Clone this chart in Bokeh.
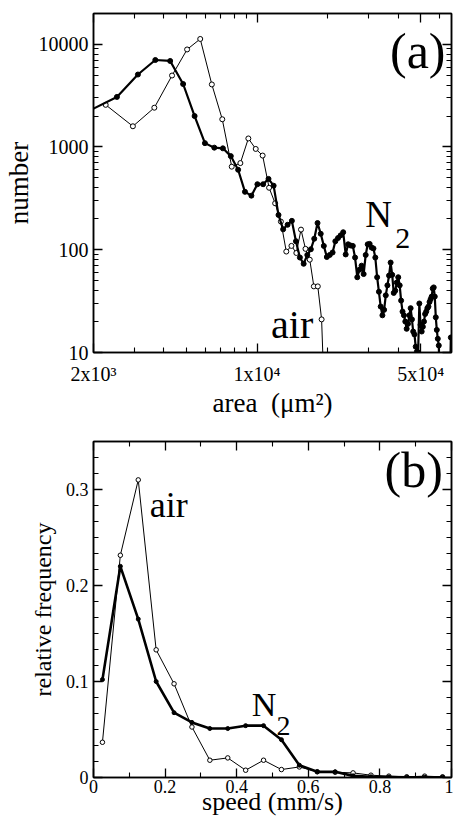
from bokeh.plotting import figure
from bokeh.models import FixedTicker, LogAxis, LinearAxis, Label, Range1d, NumeralTickFormatter
from bokeh.layouts import column
from bokeh.embed import file_html
from bokeh.resources import INLINE

FONT = "Liberation Serif"

# ---------------- panel (a): area distribution (log-log) ----------------
area_n2 = [1940, 2518, 3096, 3674, 4252, 4830, 5408, 5986, 6564, 7142,
           7720, 8298, 8876, 9454, 10032, 10610, 11188, 11766, 12344, 12922,
           13500, 14078, 14656, 15234, 15812, 16390, 16968, 17546, 18124, 18702,
           19280, 19858, 20436, 21014, 21592, 22170, 22748, 23326, 23904, 24482,
           25060, 25638, 26216, 26794, 27372, 27950, 28528, 29106, 29684, 30262,
           30840, 31418, 31996, 32574, 33152, 33730, 34308, 34886, 35464, 36042,
           36620, 37198, 37776, 38354, 38932, 39510, 40088, 40666, 41244, 41822,
           42400, 42978, 43556, 44134, 44712, 45290, 45868, 46446, 47024, 47602,
           48180, 48758, 49336, 49914, 50492, 51070, 51648, 52226, 52804, 53382,
           53960, 54538, 55116, 55694, 56272, 56850, 57428, 58006, 58584, 59162,
           59740, 60318, 66676, 67254]
count_n2 = [2280, 3070, 5070, 7020, 6870, 4100, 2000, 1090, 985, 970,
            815, 600, 366, 336, 434, 434, 489, 420, 218, 158,
            175, 191, 121, 84, 73, 89, 101, 128, 182, 143,
            109, 85, 89, 94, 121, 130, 138, 148, 90, 113,
            110, 109, 84, 54, 64, 70, 58, 89, 113, 114,
            105, 103, 84, 54, 39, 28, 23, 26, 36, 45,
            56, 75, 57, 38, 40, 48, 54, 45, 32, 25,
            23, 20, 17, 19, 23, 27, 21, 16, 15, 11.4,
            10.2, 10, 30, 18.6, 16, 17.8, 20, 23.7, 25, 27,
            28, 31, 33, 35, 42, 43, 35, 22, 16.6, 13.6,
            11.7, 5, 5, 14]

area_air = [2255, 2947, 3639, 4331, 5023, 5715, 6407, 7099, 7791, 8483,
            9175, 9867, 10559, 11251, 11943, 12635, 13327, 14019, 14711, 15403,
            16095, 16787, 17479, 18171, 18863, 19555]
count_air = [2570, 1590, 2410, 4960, 8890, 11250, 4060, 1860, 643, 697,
             1210, 957, 825, 401, 283, 188, 96, 109, 93, 157,
             102, 80, 44, 44, 21, 2]

area_major = [2000, 10000, 50000]
area_major_labels = ["2x10³", "1x10⁴", "5x10⁴"]
area_minor = [3000, 4000, 5000, 6000, 7000, 8000, 9000, 20000, 30000, 40000, 60000]
count_major = [10, 100, 1000, 10000]
count_minor = [20, 30, 40, 50, 60, 70, 80, 90, 200, 300, 400, 500, 600, 700, 800, 900,
               2000, 3000, 4000, 5000, 6000, 7000, 8000, 9000]

# ---------------- panel (b): speed distribution ----------------
speed = [0.025, 0.075, 0.125, 0.175, 0.225, 0.275, 0.325, 0.375, 0.425, 0.475,
         0.525, 0.575, 0.625, 0.675, 0.725, 0.775, 0.825, 0.875, 0.925, 0.975]
freq_n2 = [0.102, 0.220, 0.165, 0.100, 0.0675, 0.0574, 0.051, 0.051, 0.054, 0.054,
           0.0394, 0.0128, 0.0059, 0.0059, 0.0017, 0.0007, 0.0005, 0.0003, 0.0003, 0.0003]
freq_air = [0.0367, 0.2315, 0.310, 0.133, 0.0976, 0.0526, 0.018, 0.0204, 0.0076, 0.018,
            0.0083, 0.011, 0.006, 0.0055, 0.0048, 0.0024, 0.0014, 0.0007, 0.0014, 0.0007]

speed_major = [0, 0.2, 0.4, 0.6, 0.8, 1.0]
speed_minor = [0.1, 0.3, 0.5, 0.7, 0.9]
freq_major = [0, 0.1, 0.2, 0.3]
freq_minor = [0.0167, 0.0333, 0.05, 0.0667, 0.0833, 0.1167, 0.1333, 0.15, 0.1667, 0.1833,
              0.2167, 0.2333, 0.25, 0.2667, 0.2833, 0.3167, 0.3333]


def style_axis(ax, tick_size="20px", label_size="27px"):
    ax.major_tick_in = 9
    ax.major_tick_out = 0
    ax.minor_tick_in = 5
    ax.minor_tick_out = 0
    ax.major_tick_line_width = 1.3
    ax.minor_tick_line_width = 1.1
    ax.major_tick_line_color = "black"
    ax.minor_tick_line_color = "black"
    ax.axis_line_color = "black"
    ax.axis_line_width = 1.5
    ax.major_label_text_font = FONT
    ax.major_label_text_font_size = tick_size
    ax.major_label_text_color = "black"
    ax.axis_label_text_font = FONT
    ax.axis_label_text_font_size = label_size
    ax.axis_label_text_font_style = "normal"
    ax.axis_label_text_color = "black"


def mirror_axis(cls, ticker, ticks):
    ax = cls(ticker=ticker)
    style_axis(ax)
    ax.major_label_overrides = {t: "" for t in ticks}
    ax.major_label_text_font_size = "0px"
    ax.major_label_standoff = 0
    return ax


def base_fig(**kw):
    p = figure(output_backend="svg", toolbar_location=None, **kw)
    p.grid.visible = False
    p.outline_line_color = "black"
    p.outline_line_width = 1.5
    p.background_fill_color = "white"
    p.border_fill_color = "white"
    return p


def text(p, x, y, s, size):
    p.add_layout(Label(x=x, y=y, text=s, text_font=FONT, text_font_size=size,
                       text_color="black", text_baseline="bottom", text_align="left"))


pa = base_fig(width=453, height=420, x_axis_type="log", y_axis_type="log",
              x_range=Range1d(2000, 67700), y_range=Range1d(10, 19900),
              min_border_left=91, min_border_right=1, min_border_top=13, min_border_bottom=64)

pa.xaxis.ticker = FixedTicker(ticks=area_major, minor_ticks=area_minor)
pa.yaxis.ticker = FixedTicker(ticks=count_major, minor_ticks=count_minor)
for ax in pa.xaxis + pa.yaxis:
    style_axis(ax, "20px", "27px")
pa.xaxis.major_label_overrides = dict(zip(area_major, area_major_labels))
pa.yaxis.formatter = NumeralTickFormatter(format="0")
pa.xaxis.axis_label = "area\u00a0 (μm²)"
pa.yaxis.axis_label = "number"
pa.xaxis.major_label_standoff = 10
pa.xaxis.axis_label_standoff = 0
pa.yaxis.major_label_standoff = 5
pa.yaxis.axis_label_standoff = 2
pa.add_layout(mirror_axis(LogAxis, FixedTicker(ticks=count_major, minor_ticks=count_minor), count_major), "right")
pa.add_layout(mirror_axis(LogAxis, FixedTicker(ticks=area_major, minor_ticks=area_minor), area_major), "above")

pa.line(area_air, count_air, line_color="black", line_width=1)
pa.scatter(area_air, count_air, size=5, marker="circle", fill_color="white", line_color="black", line_width=1)
pa.line(area_n2, count_n2, line_color="black", line_width=2.2)
pa.scatter(area_n2, count_n2, size=5, marker="circle", fill_color="black", line_color="black")

text(pa, 36980, 4600, "(a)", "50px")
text(pa, 28970, 139, "N", "37px")
text(pa, 38900, 105, "2", "30px")
text(pa, 11470, 11.3, "air", "40px")

pb = base_fig(width=453, height=399, x_range=Range1d(0, 1), y_range=Range1d(0, 0.35),
              min_border_left=87, min_border_right=2, min_border_top=21, min_border_bottom=42)
pb.xaxis.ticker = FixedTicker(ticks=speed_major, minor_ticks=speed_minor)
pb.yaxis.ticker = FixedTicker(ticks=freq_major, minor_ticks=freq_minor)
for ax in pb.xaxis + pb.yaxis:
    style_axis(ax, "18px", "24px")
pb.xaxis.axis_label_text_font_size = "26px"
pb.xaxis.formatter = NumeralTickFormatter(format="0.[0]")
pb.yaxis.formatter = NumeralTickFormatter(format="0.[0]")
pb.yaxis.axis_label = "relative frequency"
pb.xaxis.axis_label = "speed (mm/s)"
pb.xaxis.major_label_standoff = 2
pb.xaxis.axis_label_standoff = -9
pb.yaxis.major_label_standoff = 5
pb.yaxis.axis_label_standoff = 7
pb.add_layout(mirror_axis(LinearAxis, FixedTicker(ticks=freq_major, minor_ticks=freq_minor), freq_major), "right")
pb.add_layout(mirror_axis(LinearAxis, FixedTicker(ticks=speed_major, minor_ticks=speed_minor), speed_major), "above")

pb.line(speed, freq_air, line_color="black", line_width=1)
pb.scatter(speed, freq_air, size=4.5, marker="circle", fill_color="white", line_color="black", line_width=1)
pb.line(speed, freq_n2, line_color="black", line_width=2.6)
pb.scatter(speed, freq_n2, size=4, marker="circle", fill_color="black", line_color="black")

text(pb, 0.813, 0.291, "(b)", "50px")
text(pb, 0.157, 0.2626, "air", "36px")
text(pb, 0.442, 0.0568, "N", "34px")
text(pb, 0.511, 0.0446, "2", "28px")

layout = column(pa, pb)
open("out.html", "w").write(file_html(layout, INLINE))
